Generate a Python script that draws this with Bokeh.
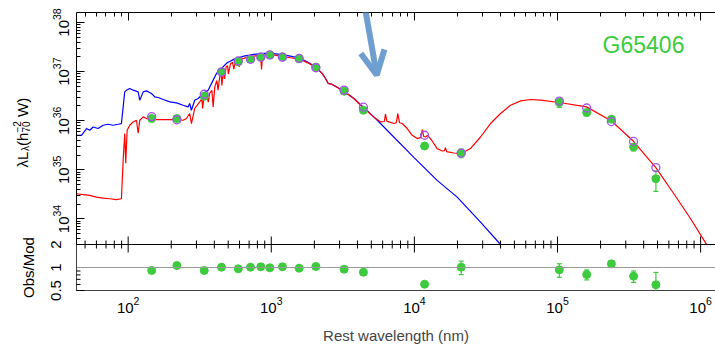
import numpy as np
from bokeh.plotting import figure
from bokeh.models import (Range1d, LogAxis, LogScale, FixedTicker, Label, Span, Arrow, OpenHead,
                          BoxAnnotation)
from bokeh.core.properties import value
from bokeh.embed import file_html
from bokeh.resources import INLINE

# ---------------- data (log10 wavelength in nm, log10 luminosity in W) ----------------
red_logwl = [1.639, 1.686, 1.732, 1.778, 1.825, 1.871, 1.918, 1.953, 1.965, 1.976, 1.983, 1.993,
             2.011, 2.035, 2.058, 2.070, 2.081, 2.105, 2.128, 2.163, 2.198, 2.245, 2.291, 2.338,
             2.384, 2.407, 2.430, 2.442, 2.465, 2.500, 2.515, 2.520, 2.530, 2.550, 2.560, 2.570,
             2.585, 2.594, 2.605, 2.620, 2.628, 2.640, 2.650, 2.655, 2.665, 2.673, 2.685, 2.695,
             2.700, 2.715, 2.730, 2.738, 2.750, 2.765, 2.775, 2.790, 2.808, 2.830, 2.840, 2.855,
             2.878, 2.900, 2.925, 2.932, 2.939, 2.994, 3.064, 3.134, 3.204, 3.251, 3.309, 3.356,
             3.379, 3.398, 3.426, 3.509, 3.577, 3.642, 3.716, 3.763, 3.790, 3.798, 3.808, 3.821,
             3.856, 3.874, 3.884, 3.896, 3.915, 3.950, 3.985, 4.020, 4.045, 4.055, 4.065, 4.078,
             4.094, 4.124, 4.159, 4.194, 4.210, 4.217, 4.225, 4.275, 4.327, 4.392, 4.462, 4.532,
             4.602, 4.672, 4.742, 4.811, 4.882, 5.012, 5.203, 5.377, 5.531, 5.687, 5.813, 5.930,
             6.039, 6.083]
red_logL = [34.514, 34.494, 34.480, 34.445, 34.424, 34.412, 34.392, 34.412, 35.194, 35.739, 35.133, 35.806,
            35.908, 35.976, 36.010, 35.745, 36.010, 36.078, 36.045, 36.045, 36.024, 36.024, 36.024, 36.024,
            36.010, 36.045, 36.147, 35.943, 36.249, 36.384, 36.450, 36.250, 36.490, 36.520, 36.380, 36.560,
            36.620, 36.280, 36.690, 36.820, 36.620, 36.900, 36.960, 36.720, 37.030, 36.850, 37.100, 37.120,
            36.950, 37.160, 37.190, 37.050, 37.210, 37.230, 37.100, 37.260, 37.270, 37.290, 37.180, 37.300,
            37.316, 37.325, 37.327, 37.045, 37.331, 37.351, 37.316, 37.282, 37.249, 37.184, 37.092, 36.963,
            36.861, 36.759, 36.739, 36.602, 36.453, 36.265, 36.078, 35.976, 35.985, 36.133, 35.990, 35.976,
            35.943, 35.960, 36.147, 35.960, 35.943, 35.841, 35.704, 35.637, 35.660, 35.820, 35.680, 35.669,
            35.704, 35.588, 35.433, 35.384, 35.390, 35.453, 35.370, 35.343, 35.331, 35.433, 35.669, 35.943,
            36.147, 36.316, 36.404, 36.433, 36.418, 36.371, 36.282, 35.996, 35.582, 35.045, 34.514, 34.004,
            33.494, 33.255]

blue_logwl = [1.639, 1.674, 1.709, 1.732, 1.755, 1.790, 1.825, 1.860, 1.895, 1.930, 1.953, 1.976,
              1.988, 2.011, 2.035, 2.070, 2.081, 2.105, 2.128, 2.163, 2.186, 2.210, 2.245, 2.291,
              2.338, 2.384, 2.419, 2.430, 2.442, 2.465, 2.489, 2.524, 2.559, 2.594, 2.617, 2.652,
              2.692, 2.738, 2.808, 2.878, 2.948, 2.994, 3.064, 3.134, 3.204, 3.251, 3.309, 3.356,
              3.379, 3.398, 3.426, 3.509, 3.577, 3.642, 3.716, 3.763, 3.996, 4.159, 4.299, 4.462,
              4.602, 4.637]
blue_logL = [35.704, 35.704, 35.841, 35.806, 35.873, 35.841, 35.908, 35.929, 35.908, 35.929, 35.943, 36.588,
             36.622, 36.657, 36.622, 36.588, 36.418, 36.588, 36.608, 36.555, 36.486, 36.473, 36.433, 36.384,
             36.363, 36.316, 36.282, 36.351, 36.214, 36.418, 36.453, 36.555, 36.622, 36.827, 36.963, 37.065,
             37.180, 37.249, 37.316, 37.351, 37.371, 37.371, 37.351, 37.316, 37.269, 37.200, 37.098, 36.963,
             36.861, 36.759, 36.739, 36.602, 36.453, 36.282, 36.078, 35.943, 35.255, 34.786, 34.445, 33.935,
             33.480, 33.357]

# photometry: rest wavelength (nm), observed and model log10 L, fractional error
phot_wl = [146, 219, 340, 449, 588, 716, 845, 977, 1197, 1566, 2050, 3228, 4405,
           11780, 21240, 103000, 160000, 238000, 340000, 487000]
obs_logL = [36.045, 36.045, 36.500, 36.996, 37.200, 37.255, 37.302, 37.337, 37.302, 37.261, 37.092,
            36.602, 36.214, 35.486, 35.343, 36.371, 36.167, 36.031, 35.465, 34.820]
mod_logL = [36.084, 36.019, 36.539, 36.992, 37.217, 37.251, 37.293, 37.341, 37.293, 37.270, 37.079,
            36.624, 36.276, 35.705, 35.339, 36.401, 36.259, 35.983, 35.579, 35.046]
obs_relerr = [0.03, 0.03, 0.02, 0.01, 0.01, 0.01, 0.01, 0.02, 0.02, 0.02, 0.02,
              0.02, 0.03, 0.03, 0.20, 0.20, 0.15, 0.07, 0.17, 0.45]

x_major = [1e2, 1e3, 1e4, 1e5, 1e6]
y_major = [1e34, 1e35, 1e36, 1e37, 1e38]
res_major = [0.5, 1, 2]
res_labels = ["0.5", "1", "2"]
res_minor = [0.6, 0.7, 0.8, 0.9]
galaxy_name = "G65406"

# axis limits
X_LOG_LO, X_LOG_HI = 1.639, 6.104
MAIN_LOG_LO, MAIN_LOG_HI = 33.48, 38.204
RES_LO, RES_HI = 0.5, 2.0

# ---------------- layout / styling ----------------
FONT = "Liberation Sans"
GREEN = "#3ccb3c"
PURPLE = "#a64ff0"
ARROW = "#6f9fd0"
MAIN_PX, RES_PX = 232, 46

x_minor = [k * 10.0 ** n for n in range(1, 7) for k in range(2, 10)]
y_minor = [k * 10.0 ** n for n in range(33, 38) for k in range(2, 10) if k * 10.0 ** n > 10 ** MAIN_LOG_LO]

wl_red = 10.0 ** np.array(red_logwl)
L_red = 10.0 ** np.array(red_logL)
wl_blue = 10.0 ** np.array(blue_logwl)
L_blue = 10.0 ** np.array(blue_logL)
wl = np.array(phot_wl, dtype=float)
obs = 10.0 ** np.array(obs_logL)
mod = 10.0 ** np.array(mod_logL)
err = np.array(obs_relerr)
res = obs / mod
res_lo = res * (1 - err)
res_hi = res * (1 + err)
res_lo_shown = np.maximum(res_lo, RES_LO)
cap_ok = res_lo > RES_LO

# one frame holds both panels: main log range extended downward, residual range extended upward
px_per_dec = MAIN_PX / (MAIN_LOG_HI - MAIN_LOG_LO)
full_lo = MAIN_LOG_LO - RES_PX / px_per_dec
res_px_per_dec = RES_PX / np.log10(RES_HI / RES_LO)
res_full_hi = np.log10(RES_HI) + MAIN_PX / res_px_per_dec
X0 = 10 ** X_LOG_LO
Y_DIV = 10 ** MAIN_LOG_LO

p = figure(x_axis_type="log", y_axis_type="log",
           x_range=Range1d(X0, 10 ** X_LOG_HI),
           y_range=Range1d(10 ** full_lo, 10 ** MAIN_LOG_HI),
           frame_width=639, frame_height=MAIN_PX + RES_PX,
           min_border_left=76, min_border_right=0, min_border_top=12, min_border_bottom=0,
           toolbar_location=None, output_backend="svg")
p.extra_y_ranges = {"res": Range1d(RES_LO, 10 ** res_full_hi)}
p.extra_y_scales = {"res": LogScale()}
p.outline_line_color = None
p.grid.visible = False


def style_axis(ax, ticks, minor, labels=True):
    ax.ticker = FixedTicker(ticks=ticks, minor_ticks=minor)
    ax.major_tick_in = 8
    ax.major_tick_out = 0
    ax.minor_tick_in = 4
    ax.minor_tick_out = 0
    ax.axis_line_color = "black"
    ax.major_tick_line_color = "black"
    ax.minor_tick_line_color = "black"
    ax.major_label_text_font = FONT
    ax.major_label_text_color = "black"
    ax.axis_label_text_font = FONT
    ax.axis_label_text_font_style = "normal"
    if labels:
        ax.major_label_text_font_size = "15px"
    else:
        ax.major_label_text_font_size = "1px"
        ax.major_label_text_alpha = 0
        ax.major_label_standoff = 0


bx = p.xaxis[0]
style_axis(bx, x_major, x_minor)
bx.major_label_standoff = 6
bx.axis_label = "Rest wavelength (nm)"
bx.axis_label_text_font_size = "15px"
bx.axis_label_standoff = 11

top_ax = LogAxis()
style_axis(top_ax, x_major, x_minor, labels=False)
p.add_layout(top_ax, "above")

yax = p.yaxis[0]
style_axis(yax, y_major, y_minor)
yax.major_label_orientation = "vertical"
yax.major_label_standoff = 8

# ---- main panel content ----
p.line(wl_blue, L_blue, line_color="blue", line_width=1.2)
p.line(wl_red, L_red, line_color="red", line_width=1.2)
p.segment(wl, obs * (1 - err), wl, obs * (1 + err), line_color=GREEN, line_width=1.2)
p.scatter(wl, obs * (1 - err), marker="dash", size=5, line_color=GREEN, line_width=1.2)
p.scatter(wl, obs * (1 + err), marker="dash", size=5, line_color=GREEN, line_width=1.2)
p.scatter(wl, obs, size=8, fill_color=GREEN, line_color=GREEN)
p.scatter(wl, mod, size=8, fill_color=None, line_color=PURPLE, line_width=1.3)

p.add_layout(Label(x=10 ** 5.315, y=10 ** 37.541, text=galaxy_name, text_font=FONT,
                   text_font_size="23px", text_color=GREEN, text_align="left",
                   text_baseline="alphabetic"))

p.add_layout(Arrow(end=OpenHead(size=24, line_width=6, line_color=ARROW),
                   x_start=10 ** 3.646, y_start=10 ** 38.45, x_end=10 ** 3.737, y_end=10 ** 36.93,
                   line_width=6, line_color=ARROW))

# ---- residual panel ----
p.add_layout(BoxAnnotation(top=Y_DIV, fill_color="white", fill_alpha=1.0,
                           line_color=None, level="annotation"))
p.add_layout(Span(location=Y_DIV, dimension="width", line_color="black",
                  line_width=1, level="overlay"))
# ticks on the panel divider (inward for both panels)
p.scatter(x_major, [Y_DIV] * len(x_major), marker="dash", angle=np.pi / 2, size=16,
          line_color="black", line_width=1, level="overlay")
x_minor_vis = [v for v in x_minor if 10 ** X_LOG_LO < v < 10 ** X_LOG_HI]
p.scatter(x_minor_vis, [Y_DIV] * len(x_minor_vis), marker="dash", angle=np.pi / 2,
          size=8, line_color="black", line_width=1, level="overlay")
# residual y-axis ticks (inward)
p.ray([X0] * len(res_major), res_major, length=8, length_units="screen", angle=0,
      line_color="black", line_width=1, y_range_name="res", level="overlay")
p.ray([X0] * len(res_minor), res_minor, length=4, length_units="screen", angle=0,
      line_color="black", line_width=1, y_range_name="res", level="overlay")

p.add_layout(Span(location=1, dimension="width", line_color="#9a9a9a", line_width=1,
                  y_range_name="res", level="overlay"))
p.segment(wl, res_lo_shown, wl, res_hi, line_color=GREEN, line_width=1.2,
          y_range_name="res", level="overlay")
p.scatter(wl[cap_ok], res_lo[cap_ok], marker="dash", size=5, line_color=GREEN, line_width=1.2,
          y_range_name="res", level="overlay")
p.scatter(wl, res_hi, marker="dash", size=5, line_color=GREEN, line_width=1.2,
          y_range_name="res", level="overlay")
p.scatter(wl, res, size=8, fill_color=GREEN, line_color=GREEN, y_range_name="res", level="overlay")

# ---- texts left of the frame (text glyphs anchored at the frame edge, offset in pixels) ----
TXT = dict(angle=np.pi / 2, text_font=value(FONT), text_color="black", level="overlay")
# residual tick labels
p.text([X0] * len(res_major), res_major, text=res_labels, x_offset=-21, text_font_size="15px",
       text_align="center", text_baseline="alphabetic", y_range_name="res", **TXT)
# residual axis title
p.text([X0], [1], text=["Obs/Mod"], x_offset=-48, text_font_size="15px",
       text_align="center", text_baseline="alphabetic", y_range_name="res", **TXT)
# main axis title: lambda L_lambda (h_70^-2 W), composed from pieces
title_text = ["λL", "λ", "(h", "70", "−2", "W)"]
title_dx = [-54, -51, -54, -51, -60, -54]
title_dy = [-77, -93.5, -98.5, -112, -112, -127.5]
title_fs = ["15px", "10px", "15px", "10px", "10px", "15px"]
p.text([X0] * len(title_text), [Y_DIV] * len(title_text), text=title_text,
       x_offset=title_dx, y_offset=title_dy, text_font_size=title_fs,
       text_align="left", text_baseline="alphabetic", **TXT)

open("out.html", "w").write(file_html(p, INLINE))
